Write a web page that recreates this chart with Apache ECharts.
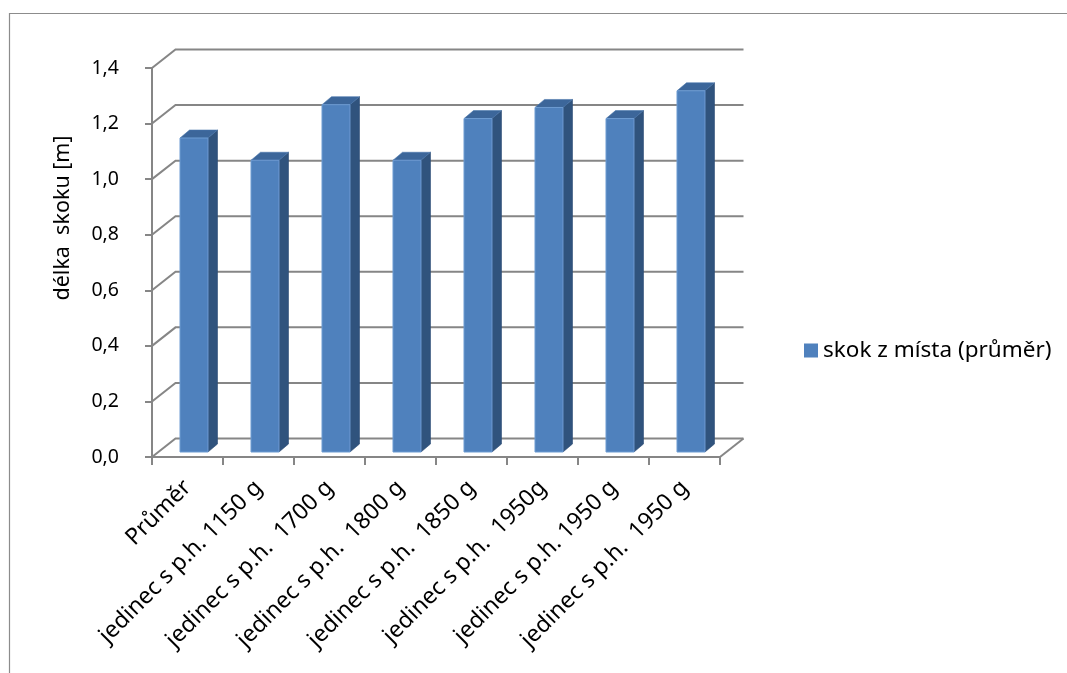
<!DOCTYPE html>
<html>
<head>
<meta charset="utf-8">
<script src="https://cdn.jsdelivr.net/npm/echarts@6/dist/echarts.min.js"></script>
<style>
  html, body { margin: 0; padding: 0; background: #fff; }
  #chart { width: 1067px; height: 673px; }
</style>
</head>
<body>
<div id="chart"></div>
<script>
// Categories (individuals) and mean standing-jump length in metres
const categories = [
  'Průměr',
  'jedinec s p.h. 1150 g',
  'jedinec s p.h.  1700 g',
  'jedinec s p.h.  1800 g',
  'jedinec s p.h.  1850 g',
  'jedinec s p.h.  1950g',
  'jedinec s p.h. 1950 g',
  'jedinec s p.h.  1950 g'
];
const jumpLength = [1.13, 1.05, 1.25, 1.05, 1.20, 1.24, 1.20, 1.30];
const yTickValues = [0, 0.2, 0.4, 0.6, 0.8, 1.0, 1.2, 1.4];
const yTickLabels = ['0,0', '0,2', '0,4', '0,6', '0,8', '1,0', '1,2', '1,4'];
const seriesName = 'skok z místa (průměr)';
const axisTitle = 'délka  skoku [m]';

const FONT = 'Noto Sans';
const GRID_COLOR = '#868686';

// depth of the back wall (perspective offset in px)
const WALL_DX = 23.5, WALL_DY = -18.5;
// column placement inside the depth and its own depth
const BAR_OX = 6.5, BAR_OY = -5;
const BAR_DX = 9.5, BAR_DY = -8;
const BAR_HALF = 0.197; // half of front face width as fraction of band

const chart = echarts.init(document.getElementById('chart'), null, { renderer: 'canvas' });

function renderWall(params, api) {
  const cs = params.coordSys;
  const v = api.value(1);
  const p = api.coord([0, v]);
  const y = p[1];
  const x0 = cs.x, x1 = cs.x + cs.width;
  const children = [{
    type: 'polyline',
    shape: { points: [[x0, y], [x0 + WALL_DX, y + WALL_DY], [x1 + WALL_DX, y + WALL_DY]] },
    style: { stroke: GRID_COLOR, lineWidth: 2, fill: null }
  }];
  if (v === 0) {
    children.push({
      type: 'line',
      shape: { x1: x1, y1: y, x2: x1 + WALL_DX, y2: y + WALL_DY },
      style: { stroke: GRID_COLOR, lineWidth: 2 }
    });
  }
  return { type: 'group', children: children };
}

function renderColumn(params, api) {
  const i = api.value(0);
  const base = api.coord([i, 0]);
  const top = api.coord([i, api.value(1)]);
  const band = api.size([1, 0])[0];
  const hw = band * BAR_HALF;
  const cx = base[0] + BAR_OX;
  const xl = cx - hw, xr = cx + hw;
  const yb = base[1] + BAR_OY, yt = top[1] + BAR_OY;
  return {
    type: 'group',
    children: [
      {
        type: 'polygon',
        shape: { points: [[xr, yb], [xr + BAR_DX, yb + BAR_DY], [xr + BAR_DX, yt + BAR_DY], [xr, yt]] },
        style: { fill: '#30537d', stroke: '#2c4c74', lineWidth: 0.6 }
      },
      {
        type: 'polygon',
        shape: { points: [[xl, yt], [xr, yt], [xr + BAR_DX, yt + BAR_DY], [xl + BAR_DX, yt + BAR_DY]] },
        style: { fill: '#3c669a', stroke: '#4a77ad', lineWidth: 0.6 }
      },
      {
        type: 'rect',
        shape: { x: xl, y: yt, width: xr - xl, height: yb - yt },
        style: { fill: '#4f81bd', stroke: '#6d9bd2', lineWidth: 1 }
      }
    ]
  };
}

chart.setOption({
  animation: false,
  backgroundColor: '#ffffff',
  grid: { left: 152, top: 68, width: 568, height: 389, containLabel: false },
  legend: {
    data: [seriesName],
    left: 799,
    top: 334,
    icon: 'rect',
    itemWidth: 14,
    itemHeight: 14,
    itemGap: 8,
    textStyle: { fontFamily: FONT, fontSize: 22.5, color: '#000' }
  },
  xAxis: {
    type: 'category',
    data: categories,
    boundaryGap: true,
    axisLine: { show: true, lineStyle: { color: GRID_COLOR, width: 2 } },
    axisTick: { show: true, length: 8, lineStyle: { color: GRID_COLOR, width: 2 } },
    axisLabel: {
      interval: 0,
      rotate: 45,
      margin: 27,
      fontFamily: FONT,
      fontSize: 23,
      color: '#000'
    },
    splitLine: { show: false }
  },
  yAxis: {
    type: 'value',
    min: 0,
    max: 1.4,
    interval: 0.2,
    axisLine: { show: true, lineStyle: { color: GRID_COLOR, width: 2 } },
    axisTick: { show: true, length: 7, lineStyle: { color: GRID_COLOR, width: 2 } },
    axisLabel: {
      margin: 33,
      fontFamily: FONT,
      fontSize: 19.5,
      color: '#000',
      formatter: function (v) {
        const k = yTickValues.findIndex(function (t) { return Math.abs(t - v) < 1e-9; });
        return k >= 0 ? yTickLabels[k] : '';
      }
    },
    splitLine: { show: false }
  },
  graphic: [
    {
      type: 'rect',
      silent: true,
      shape: { x: 9.5, y: 13.5, width: 1200, height: 800 },
      style: { fill: null, stroke: '#8c8c8c', lineWidth: 1.2 }
    },
    {
      type: 'text',
      x: 63,
      y: 218,
      rotation: Math.PI / 2,
      style: {
        text: axisTitle,
        fontFamily: FONT,
        fontSize: 21.5,
        fill: '#000',
        align: 'center',
        verticalAlign: 'middle'
      }
    }
  ],
  series: [
    {
      name: 'wall',
      type: 'custom',
      coordinateSystem: 'cartesian2d',
      renderItem: renderWall,
      data: yTickValues.map(function (v) { return [0, v]; }),
      encode: { x: 0, y: 1 },
      clip: false,
      silent: true,
      z: 1
    },
    {
      name: seriesName,
      type: 'custom',
      coordinateSystem: 'cartesian2d',
      renderItem: renderColumn,
      data: jumpLength.map(function (v, i) { return [i, v]; }),
      encode: { x: 0, y: 1 },
      itemStyle: { color: '#4f81bd' },
      clip: false,
      z: 2
    }
  ]
});
</script>
</body>
</html>
